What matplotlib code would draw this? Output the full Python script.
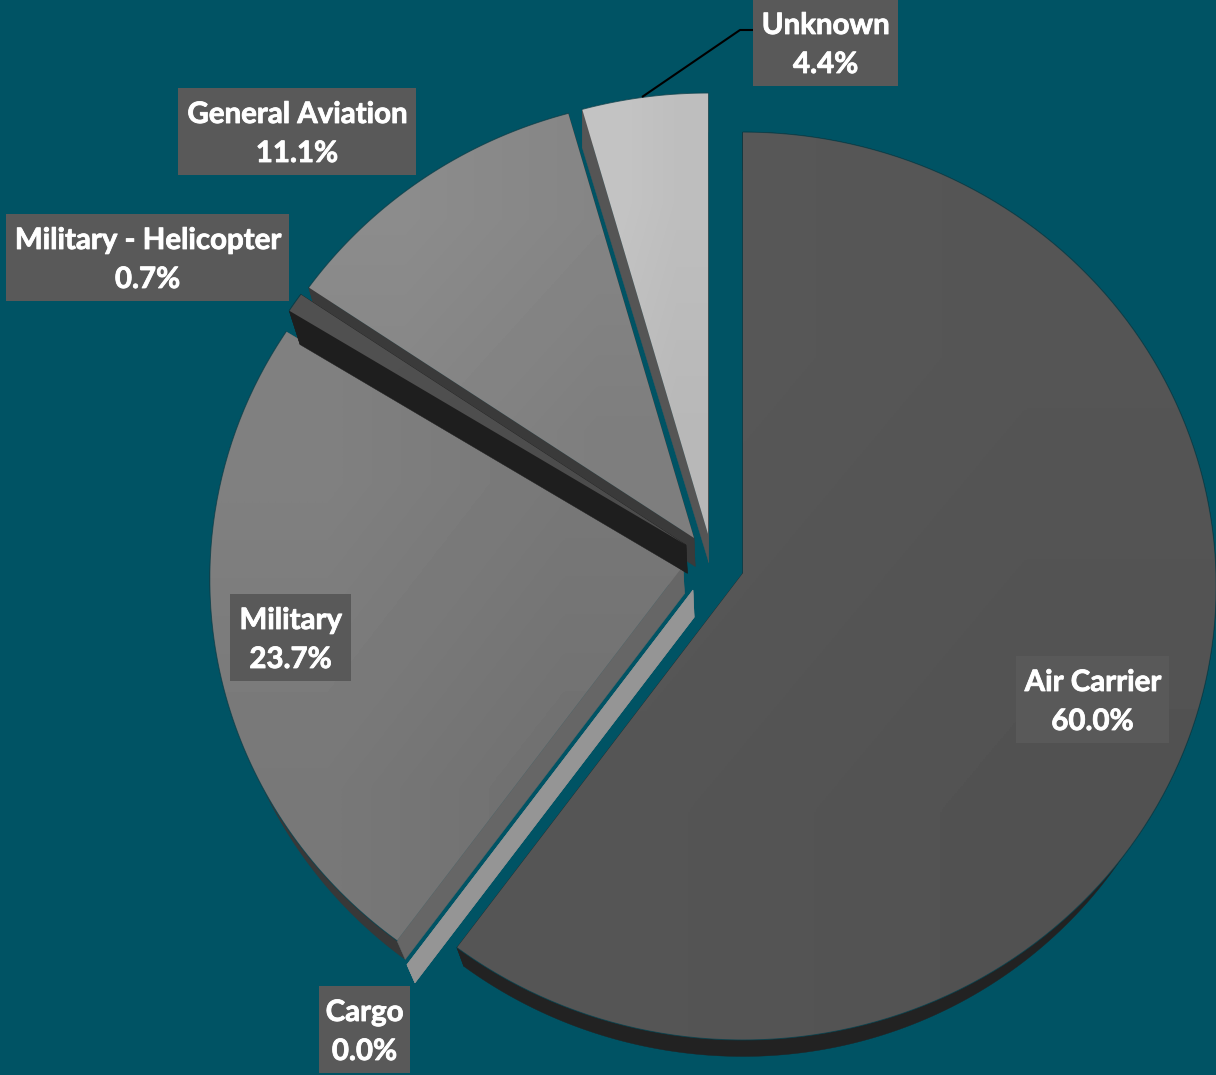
import numpy as np
import matplotlib
matplotlib.use("Agg")
import matplotlib.pyplot as plt
import matplotlib.patheffects as pe
from matplotlib.patches import Polygon, Rectangle

BACKGROUND = "#005364"
BOX_COLOR = "#595959"

categories = ["Air Carrier", "Cargo", "Military", "Military - Helicopter", "General Aviation", "Unknown"]
shares = [60.0, 0.0, 23.7, 0.7, 11.1, 4.4]

# pixel position of each slice's tip once pulled out of the pie
tips = [(743, 573), (693, 590), (683, 566), (686, 545), (694, 538), (708, 534)]

# (upper-left gray, lower-right gray, cut wall, rim wall)
slice_colors = [
    (0x58, 0x52, "#222222", "#222222"),
    (0x95, 0x95, "#959595", "#959595"),
    (0x80, 0x70, "#666666", "#383838"),
    (0x50, 0x4c, "#1e1e1e", "#1e1e1e"),
    (0x8c, 0x7e, "#3a3a3a", "#3a3a3a"),
    (0xc4, 0xb8, "#555555", "#555555"),
]

# label boxes: left, top, right, bottom in pixels
label_boxes = [
    (1016, 656, 1169, 743),
    (319, 986, 410, 1073),
    (230, 594, 351, 681),
    (6, 214, 289, 301),
    (178, 88, 416, 175),
    (753, -1, 898, 86),
]

RX, RY, TILT = 473.0, 453.6, 0.0287
VANISH = np.array([743.0, 600.0])
DEPTH, SHRINK, SHRINK_RIGHT = 27.0, 0.024, 0.04


def project(tip, r, theta):
    # tilted disc: the far side of the pie comes out a little smaller
    k = 1 + TILT * r * np.cos(theta)
    x = tip[0] + RX * r * np.sin(theta) / k
    y = tip[1] - RY * r * np.cos(theta) / k
    return np.column_stack([x, y])


def underside(pts):
    # the camera sits left of centre, so the right side pulls in harder
    # and the far rim hardly shifts sideways at all
    to_vanish = VANISH - pts
    low = pts + np.array([0, DEPTH]) + SHRINK * to_vanish
    far = np.clip((pts[:, 1] - 100) / 200, 0, 1)
    low[:, 0] = pts[:, 0] + np.where(pts[:, 0] > VANISH[0], SHRINK_RIGHT, SHRINK * far) * to_vanish[:, 0]
    return low


total = sum(shares)
edges = np.radians(np.concatenate([[0], np.cumsum(shares)]) / total * 360)

fig = plt.figure(figsize=(12.16, 10.75), dpi=100, facecolor=BACKGROUND)
ax = fig.add_axes([0, 0, 1, 1])
ax.set_xlim(0, 1216)
ax.set_ylim(1075, 0)
ax.axis("off")


def draw_slice(i, z):
    start, end = edges[i], edges[i + 1]
    light, dark, cut_color, rim_color = slice_colors[i]
    tip = tips[i]
    thetas = np.linspace(start, end, max(int(np.degrees(end - start) * 2), 2))
    arc = project(tip, 1.0, thetas)
    apex = project(tip, 0.0, np.array([start]))

    arc_low = underside(arc)
    apex_low = underside(apex)
    ax.add_patch(Polygon(np.vstack([arc, arc_low[::-1]]), fc=rim_color, ec=rim_color, lw=0.3, zorder=z))
    for corner, corner_low in ((arc[:1], arc_low[:1]), (arc[-1:], arc_low[-1:])):
        wall = np.vstack([apex, corner, corner_low, apex_low])
        ax.add_patch(Polygon(wall, fc=cut_color, ec=cut_color, lw=0.3, zorder=z))

    if end - start <= 0:
        return
    outline = np.vstack([apex, arc])
    top = Polygon(outline, fc="none", ec="none", zorder=z + 0.5)
    ax.add_patch(top)
    x0, y0 = outline.min(axis=0)
    x1, y1 = outline.max(axis=0)
    mid = (light + dark) / 2
    shade = np.array([[light, mid], [mid, dark]]) / 255
    im = ax.imshow(shade, extent=(x0, x1, y1, y0), cmap="gray", vmin=0, vmax=1,
                   interpolation="bilinear", aspect="auto", zorder=z + 0.5)
    im.set_clip_path(top)
    ax.plot(arc[:, 0], arc[:, 1], color="#003f4c", lw=0.7, alpha=0.7, zorder=z + 0.6)


# slices overlap, so the back ones go down first
draw_order = [4, 2, 3, 5, 1, 0]
for z, i in enumerate(draw_order, start=2):
    draw_slice(i, z)
ax.set_xlim(0, 1216)
ax.set_ylim(1075, 0)

# leader from the Unknown slice up to its label
ax.plot([642, 740, 753], [97, 30, 30], color="black", lw=1.5, zorder=9, solid_capstyle="butt")

for name, share, (left, top, right, bottom) in zip(categories, shares, label_boxes):
    ax.add_patch(Rectangle((left, top), right - left, bottom - top, fc=BOX_COLOR, ec="none", zorder=10))
    for line, baseline in ((name, top + 35), (f"{share:.1f}%", top + 74)):
        label = ax.text((left + right) / 2, baseline, line, color="white", family="Lato", weight="bold",
                        fontsize=21.2, ha="center", va="baseline", zorder=11)
        label.set_path_effects([pe.withStroke(linewidth=0.6, foreground="white")])

fig.savefig("out.png", dpi=100, facecolor=BACKGROUND)
